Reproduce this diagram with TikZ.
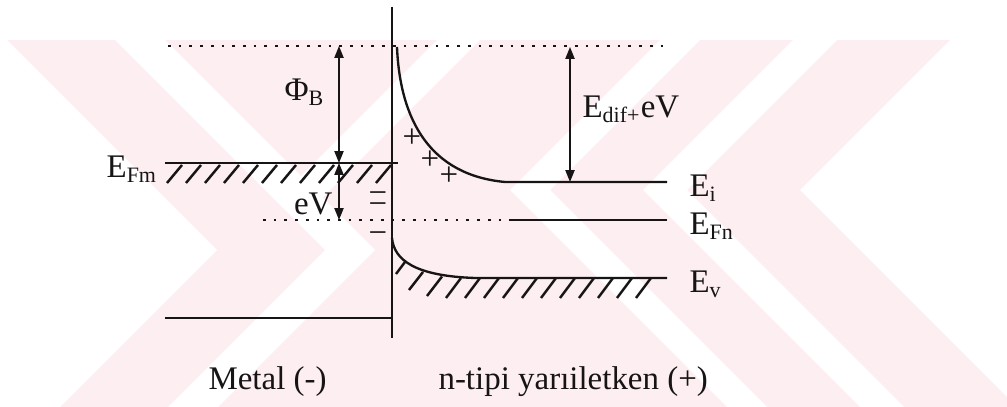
\documentclass[tikz,border=0pt]{standalone}
\usepackage{fontspec}
\setmainfont{Liberation Serif}
\usetikzlibrary{arrows.meta, backgrounds}
\definecolor{bandInk}{RGB}{22,20,20}
\definecolor{markPink}{RGB}{253,238,241}
\tikzset{
  % energy levels and the metal/semiconductor wall
  level/.style={draw=bandInk, line width=0.85pt},
  wall/.style={draw=bandInk, line width=0.6pt},
  dotlevel/.style={draw=bandInk, line width=1pt, dash pattern=on 1pt off 2.9pt},
  hatch/.style={draw=bandInk, line width=0.9pt},
  % double headed measuring arrows
  dim/.style={{Triangle[length=4.3pt,width=3.3pt]}-{Triangle[length=4.3pt,width=3.3pt]},
              draw=bandInk, line width=0.6pt},
  % text
  lbl/.style={font=\fontsize{12}{14}\selectfont, text=bandInk, inner sep=0pt},
  chg/.style={lbl},
  minus/.style={lbl, anchor=base, text height=1pt, text depth=0pt},
  % the pale watermark behind the drawing
  wmark/.style={fill=markPink, draw=none},
  wgap/.style={fill=white, draw=none},
}

\begin{document}
\begin{tikzpicture}[x=0.0128cm, y=-0.0128cm]
\useasboundingbox (0,0) rectangle (1007,407);

% ===========================================================================
% WATERMARK
% ===========================================================================
\begin{scope}[on background layer]
  \fill[wmark] (0,40) rectangle (1007,407);
  \fill[wgap] (0,40) -- (7,40) -- (217,250) -- (60,407) -- (0,407) -- cycle;
  \fill[wgap] (115,40) -- (165,40) -- (375,250) -- (218,407) -- (168,407) -- (325,250) -- cycle;
  \fill[wgap] (437,40) -- (480,40) -- (320,200) -- (277,200) -- cycle;
  \fill[wgap] (660,40) -- (700,40) -- (550,190) -- (767,407) -- (727,407) -- (510,190) -- cycle;
  \fill[wgap] (793,40) -- (837,40) -- (687,190) -- (904,407) -- (860,407) -- (643,190) -- cycle;
  \fill[wgap] (950,40) -- (1007,40) -- (1007,397) -- (800,190) -- cycle;
\end{scope}

% ===========================================================================
% LEVELS
% ===========================================================================
\draw[wall] (392,7) -- (392,338);

\draw[dotlevel] (168,46) -- (667,46);
\draw[dotlevel] (263,220) -- (510,220);
\draw[level] (510,220) -- (667,220);

% metal side
\draw[level] (165,163) -- (398,163);
\foreach \i in {0,...,11}
  \draw[hatch] (167+19*\i,183) -- ++(15,-18);
\draw[level] (165,318) -- (392,318);

% semiconductor side: bent bands
\draw[level] (397,47) .. controls (400,120) and (430,175) .. (505,182) -- (667,182);
\draw[level] (392,238) .. controls (394,260) and (415,276) .. (475,278) -- (667,278);
\draw[hatch] (405,262) -- (396,274);
\draw[hatch] (423,272) -- (409,290);
\draw[hatch] (442,276.5) -- (427,296);
\foreach \x in {461,480,...,651}
  \draw[hatch] (\x,278) -- ++(-15,20);

% ===========================================================================
% ARROWS
% ===========================================================================
\coordinate (phiTop) at (339,46);
\coordinate (phiBot) at (339,163);
\coordinate (eVBot) at (339,220);
\coordinate (difTop) at (570,47);
\coordinate (difBot) at (570,182);

\draw[dim] (phiTop) -- (phiBot);
\draw[dim] (phiBot) -- (eVBot);
\draw[dim] (difTop) -- (difBot);

% ===========================================================================
% LABELS
% ===========================================================================
\node[lbl, anchor=base west] (lblPhiB) at (284,101) {Φ\textsubscript{B}};
\node[lbl, anchor=base east] (lblEV) at (333,215) {eV};
\node[lbl, anchor=base east] (lblEFm) at (158,178) {E\textsubscript{Fm}};
\node[lbl, anchor=base west] (lblEdif) at (582,118) {E\textsubscript{dif+}eV};
\node[lbl, anchor=base west] (lblEi) at (689,197) {E\textsubscript{i}};
\node[lbl, anchor=base west] (lblEFn) at (689,235) {E\textsubscript{Fn}};
\node[lbl, anchor=base west] (lblEv) at (689,293) {E\textsubscript{v}};

\node[chg] (pos1) at (412,138) {+};
\node[chg] (pos2) at (430,160) {+};
\node[chg] (pos3) at (449,176) {+};
\node[minus] (neg1) at (378,204) {−};
\node[minus] (neg2) at (378,215) {−};
\node[minus] (neg3) at (378,244) {−};

\node[lbl, anchor=base west] (lblMetal) at (208,390) {Metal (-)};
\node[lbl, anchor=base west] (lblSemi) at (438,390) {n-tipi yarıiletken (+)};

\end{tikzpicture}
\end{document}
